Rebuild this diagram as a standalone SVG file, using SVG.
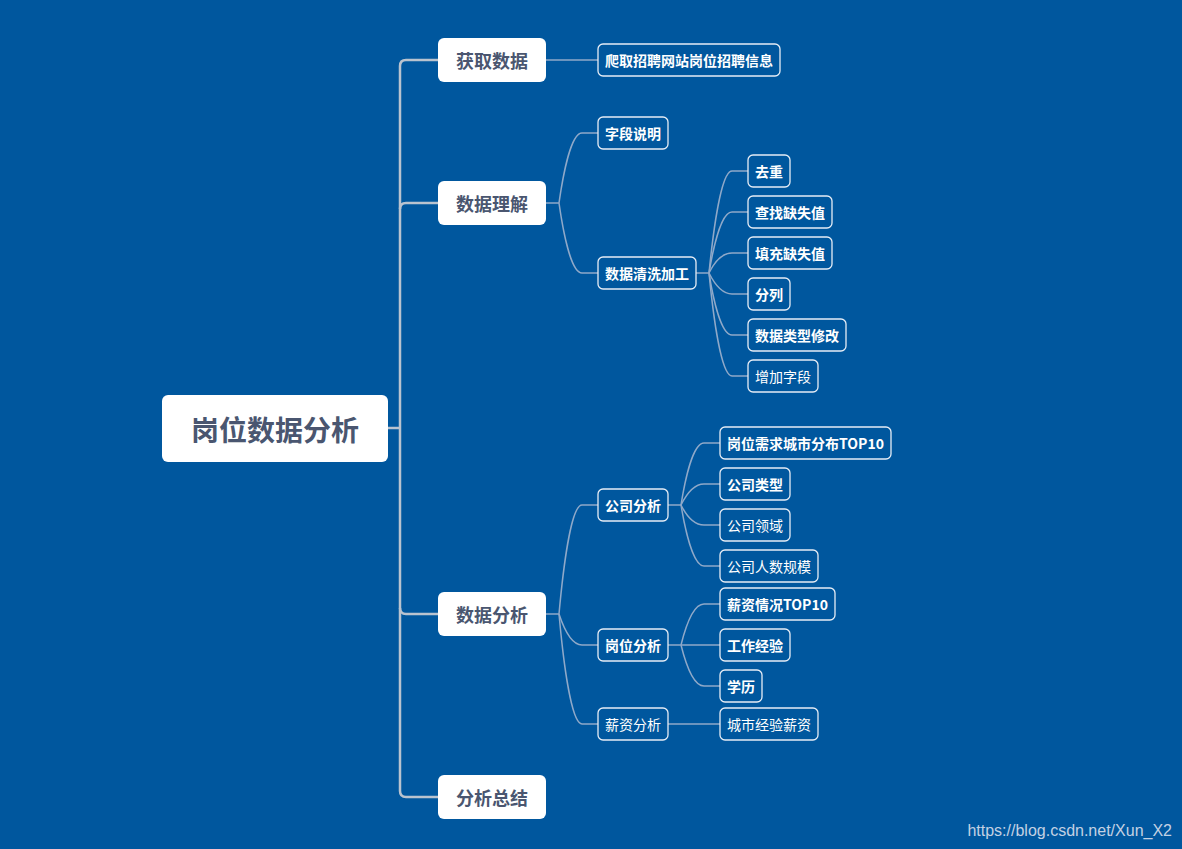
<svg xmlns="http://www.w3.org/2000/svg" width="1182" height="849" viewBox="0 0 1182 849">
<style>
.bg{fill:#00579e}
.root rect{fill:#ffffff}
.root text{font-family:"Noto Sans CJK SC","Noto Sans",sans-serif;font-size:28px;font-weight:bold;fill:#4a5670}
.l1 rect{fill:#ffffff}
.l1 text{font-family:"Noto Sans CJK SC","Noto Sans",sans-serif;font-size:18px;font-weight:bold;fill:#4a5670}
.n rect{fill:none;stroke:#e6edf6;stroke-width:1.3}
.n text{font-family:"Noto Sans CJK SC","Noto Sans",sans-serif;font-size:14px;fill:#ffffff}
.b text{font-weight:bold}
text{text-anchor:middle;dominant-baseline:central}
.trunk{fill:none;stroke:#b9c3cf;stroke-width:2.5}
.link{fill:none;stroke:#8fa9c9;stroke-width:1.5}
.wm{font-family:"Liberation Sans",Arial,sans-serif;font-size:16px;fill:#c3d1e3;text-anchor:end;dominant-baseline:auto}
</style>
<rect class="bg" x="0" y="0" width="1182" height="849"/>

<g id="connectors">
  <path class="trunk" d="M388,428 L400,428"/>
  <path class="trunk" d="M438,60 L406,60 Q400,60 400,66 L400,791 Q400,797 406,797 L438,797"/>
  <path class="trunk" d="M400,209 Q400,203 406,203 L438,203"/>
  <path class="trunk" d="M400,608 Q400,614 406,614 L438,614"/>
  <path class="link" d="M546,60 L598,60"/>
  <!-- 数据理解 fan -->
  <path class="link" d="M546,203 L559,203"/>
  <path class="link" d="M559,203 C563,175 571,133 582,133 L598,133"/>
  <path class="link" d="M559,203 C563,231 571,273 582,273 L598,273"/>
  <!-- 数据清洗加工 fan -->
  <path class="link" d="M696,273 L709,273"/>
  <path class="link" d="M709,273 C713,233 721,171 732,171 L748,171"/>
  <path class="link" d="M709,273 C713,249 721,212 732,212 L748,212"/>
  <path class="link" d="M709,273 C713,265 721,253 732,253 L748,253"/>
  <path class="link" d="M709,273 C713,281 721,294 732,294 L748,294"/>
  <path class="link" d="M709,273 C713,298 721,335 732,335 L748,335"/>
  <path class="link" d="M709,273 C713,314 721,376 732,376 L748,376"/>
  <!-- 数据分析 fan -->
  <path class="link" d="M546,614 L559,614"/>
  <path class="link" d="M559,614 C563,570 571,505 582,505 L598,505"/>
  <path class="link" d="M559,614 C563,626 571,645 582,645 L598,645"/>
  <path class="link" d="M559,614 C563,658 571,724 582,724 L598,724"/>
  <!-- 公司分析 fan -->
  <path class="link" d="M668,505 L681,505"/>
  <path class="link" d="M681,505 C685,480 693,443 704,443 L720,443"/>
  <path class="link" d="M681,505 C685,497 693,484 704,484 L720,484"/>
  <path class="link" d="M681,505 C685,513 693,525 704,525 L720,525"/>
  <path class="link" d="M681,505 C685,529 693,566 704,566 L720,566"/>
  <!-- 岗位分析 fan -->
  <path class="link" d="M668,645 L681,645"/>
  <path class="link" d="M681,645 C685,629 693,604 704,604 L720,604"/>
  <path class="link" d="M681,645 L720,645"/>
  <path class="link" d="M681,645 C685,661 693,686 704,686 L720,686"/>
  <!-- 薪资分析 -->
  <path class="link" d="M668,724 L720,724"/>
</g>

<g id="root" class="root"><rect x="162" y="395" width="226" height="67" rx="6"/><text x="275" y="429">岗位数据分析</text></g>

<g id="n-huoqu" class="l1"><rect x="438" y="38" width="108" height="44" rx="6"/><text x="492" y="60">获取数据</text></g>
<g id="n-lijie" class="l1"><rect x="438" y="181" width="108" height="44" rx="6"/><text x="492" y="203">数据理解</text></g>
<g id="n-fenxi" class="l1"><rect x="438" y="592" width="108" height="44" rx="6"/><text x="492" y="614">数据分析</text></g>
<g id="n-zongjie" class="l1"><rect x="438" y="775" width="108" height="44" rx="6"/><text x="492" y="797">分析总结</text></g>

<g id="n-paqu" class="n b"><rect x="598" y="44" width="182" height="32" rx="5"/><text x="689" y="60">爬取招聘网站岗位招聘信息</text></g>
<g id="n-ziduan" class="n b"><rect x="598" y="117" width="70" height="32" rx="5"/><text x="633" y="133">字段说明</text></g>
<g id="n-qingxi" class="n b"><rect x="598" y="257" width="98" height="32" rx="5"/><text x="647" y="273">数据清洗加工</text></g>

<g id="n-quchong" class="n b"><rect x="748" y="155" width="42" height="32" rx="5"/><text x="769" y="171">去重</text></g>
<g id="n-chazhao" class="n b"><rect x="748" y="196" width="84" height="32" rx="5"/><text x="790" y="212">查找缺失值</text></g>
<g id="n-tianchong" class="n b"><rect x="748" y="237" width="84" height="32" rx="5"/><text x="790" y="253">填充缺失值</text></g>
<g id="n-fenlie" class="n b"><rect x="748" y="278" width="42" height="32" rx="5"/><text x="769" y="294">分列</text></g>
<g id="n-leixing" class="n b"><rect x="748" y="319" width="98" height="32" rx="5"/><text x="797" y="335">数据类型修改</text></g>
<g id="n-zengjia" class="n"><rect x="748" y="360" width="70" height="32" rx="5"/><text x="783" y="376">增加字段</text></g>

<g id="n-gongsi" class="n b"><rect x="598" y="489" width="70" height="32" rx="5"/><text x="633" y="505">公司分析</text></g>
<g id="n-gangwei" class="n b"><rect x="598" y="629" width="70" height="32" rx="5"/><text x="633" y="645">岗位分析</text></g>
<g id="n-xinzi" class="n"><rect x="598" y="708" width="70" height="32" rx="5"/><text x="633" y="724">薪资分析</text></g>

<g id="n-chengshi" class="n b"><rect x="720" y="427" width="171" height="32" rx="5"/><text x="805.5" y="443">岗位需求城市分布TOP10</text></g>
<g id="n-leixing2" class="n b"><rect x="720" y="468" width="70" height="32" rx="5"/><text x="755" y="484">公司类型</text></g>
<g id="n-lingyu" class="n"><rect x="720" y="509" width="70" height="32" rx="5"/><text x="755" y="525">公司领域</text></g>
<g id="n-guimo" class="n"><rect x="720" y="550" width="98" height="32" rx="5"/><text x="769" y="566">公司人数规模</text></g>

<g id="n-xinziqk" class="n b"><rect x="720" y="588" width="115" height="32" rx="5"/><text x="777.5" y="604">薪资情况TOP10</text></g>
<g id="n-jingyan" class="n b"><rect x="720" y="629" width="70" height="32" rx="5"/><text x="755" y="645">工作经验</text></g>
<g id="n-xueli" class="n b"><rect x="720" y="670" width="42" height="32" rx="5"/><text x="741" y="686">学历</text></g>
<g id="n-csjyxz" class="n"><rect x="720" y="708" width="98" height="32" rx="5"/><text x="769" y="724">城市经验薪资</text></g>

<text class="wm" x="1172" y="836">https://blog.csdn.net/Xun_X2</text>
</svg>
